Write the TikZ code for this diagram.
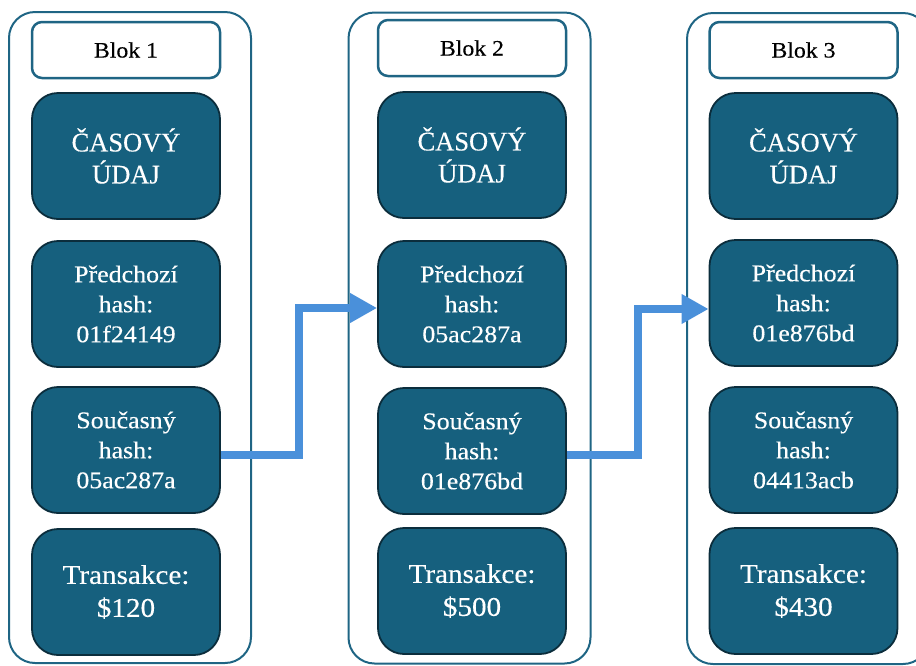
\documentclass[tikz,border=0pt]{standalone}
\usepackage{fontspec}
\setmainfont{Liberation Serif}[FakeStretch=1.08,FakeBold=0.35]
\newfontfamily\capsfont{Liberation Serif}[FakeStretch=0.98,FakeBold=0.35]
\usetikzlibrary{arrows.meta,calc}

\definecolor{boxfill}{HTML}{16607E}
\definecolor{boxedge}{HTML}{0B2D3C}
\definecolor{frameedge}{HTML}{1F6584}
\definecolor{flowblue}{HTML}{4A90DA}

\tikzset{
  blockframe/.style={draw=frameedge, line width=2pt, rounded corners=26pt,
    minimum width=242pt, minimum height=651pt, inner sep=0pt},
  titlebox/.style={draw=frameedge, line width=2.5pt, fill=white, rounded corners=10pt,
    minimum width=188pt, minimum height=56pt, inner sep=0pt, text=black,
    font=\fontsize{22}{26}\selectfont},
  databox/.style={draw=boxedge, line width=1.8pt, fill=boxfill, rounded corners=26pt,
    minimum width=188pt, minimum height=126pt, inner sep=0pt, text=white,
    align=center, font=\fontsize{24}{30}\selectfont},
  timebox/.style={databox, font=\capsfont\fontsize{27}{32}\selectfont},
  amountbox/.style={databox, font=\fontsize{27}{33}\selectfont},
  flow/.style={draw=flowblue, line width=8pt,
    -{Triangle[length=27pt,width=28pt]}},
}

\begin{document}
\begin{tikzpicture}[x=1pt,y=-1pt]
  \useasboundingbox (0,0) rectangle (916,665);
  \clip (0,0) rectangle (916,665);

  % outer frames of the three blocks
  \node[blockframe] (f1) at (130,337.5) {};
  \node[blockframe] (f2) at (469.5,338) {};
  \node[blockframe] (f3) at (808,338.5) {};

  % block 1
  \node[titlebox]  (t1)   at (126,50)  {Blok 1};
  \node[timebox]   (ts1)  at (126,156) {ČASOVÝ\\ÚDAJ};
  \node[databox]   (prev1) at (126,304) {Předchozí\\hash:\\01f24149};
  \node[databox]   (cur1) at (126,450) {Současný\\hash:\\05ac287a};
  \node[amountbox] (tx1)  at (126,592) {Transakce:\\\$120};

  % block 2
  \node[titlebox]  (t2)   at (472,48)  {Blok 2};
  \node[timebox]   (ts2)  at (472,155) {ČASOVÝ\\ÚDAJ};
  \node[databox]   (prev2) at (472,304) {Předchozí\\hash:\\05ac287a};
  \node[databox]   (cur2) at (472,451) {Současný\\hash:\\01e876bd};
  \node[amountbox] (tx2)  at (472,591) {Transakce:\\\$500};

  % block 3
  \node[titlebox]  (t3)   at (803.5,50)  {Blok 3};
  \node[timebox]   (ts3)  at (803.5,156) {ČASOVÝ\\ÚDAJ};
  \node[databox]   (prev3) at (803.5,303) {Předchozí\\hash:\\01e876bd};
  \node[databox]   (cur3) at (803.5,450) {Současný\\hash:\\04413acb};
  \node[amountbox] (tx3)  at (803.5,591) {Transakce:\\\$430};

  % links: current hash feeds the next block's previous hash
  \coordinate (m1) at ($(cur1.east)!0.5!(prev2.west)$);
  \coordinate (m2) at ($(cur2.east)!0.5!(prev3.west)$);
  \draw[flow] ([yshift=-5pt]cur1.east) -| (m1) |- ([yshift=-4pt]prev2.west);
  \draw[flow] ([yshift=-4pt]cur2.east) -| (m2) |- ([yshift=-6pt]prev3.west);
\end{tikzpicture}
\end{document}
